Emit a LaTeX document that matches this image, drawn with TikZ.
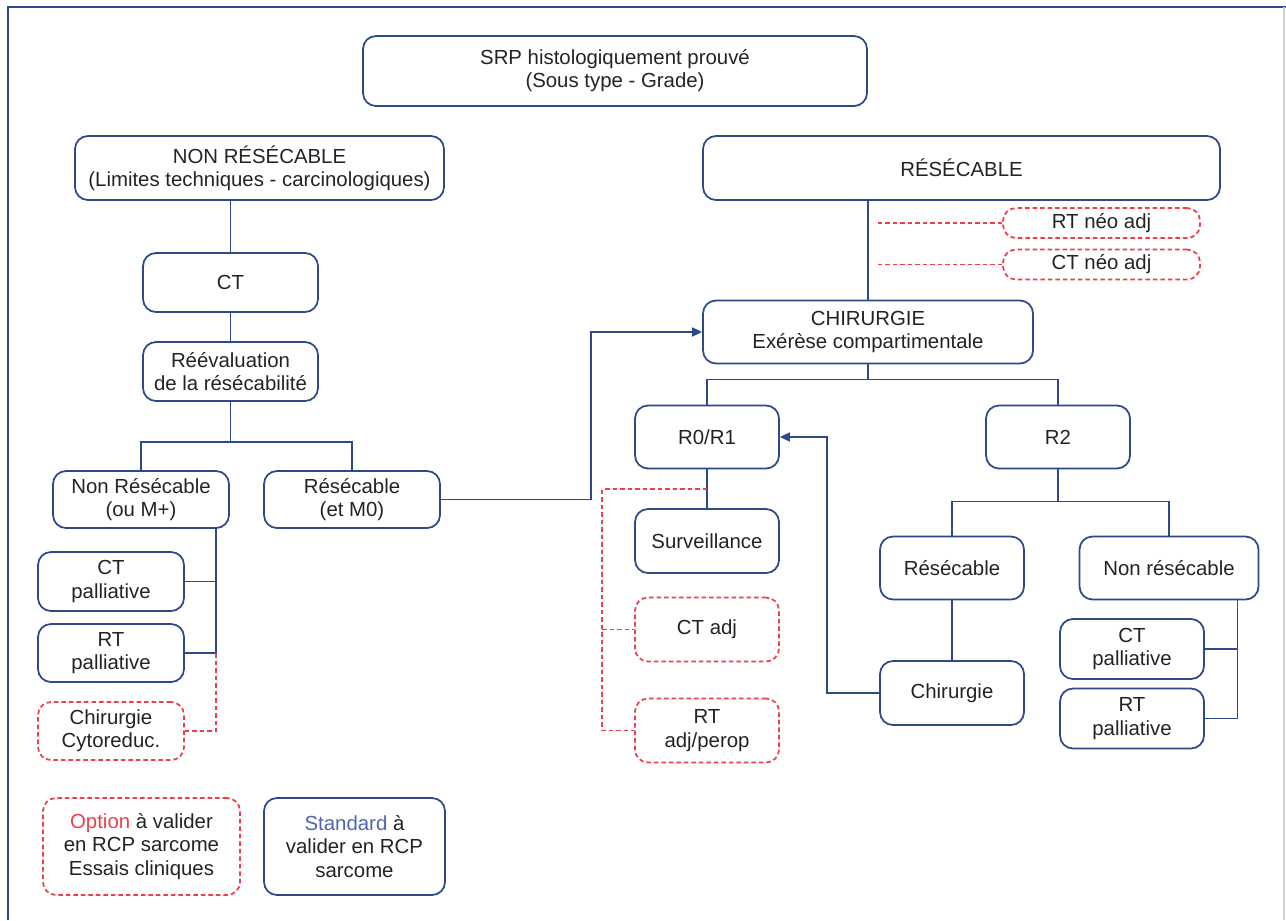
\documentclass[tikz,border=0pt]{standalone}
\usepackage{fontspec}
\setmainfont{Liberation Sans}
\usetikzlibrary{arrows.meta}

\definecolor{bleu}{RGB}{46,72,140}
\definecolor{bleuclair}{RGB}{80,100,180}
\definecolor{rouge}{RGB}{238,62,76}
\definecolor{texte}{RGB}{35,35,35}

\tikzset{
	boite/.style={draw=bleu,line width=1pt,rounded corners=2.6mm,align=center,text=texte,inner sep=0pt,font=\fontsize{11.6}{13.2}\selectfont},
	boiteopt/.style={boite,draw=rouge,dash pattern=on 0.9mm off 0.6mm},
	wh/.style 2 args={minimum width=0.2mm*#1,minimum height=0.2mm*#2},
	lien/.style={draw=bleu,line width=1pt},
	lienopt/.style={draw=rouge,line width=1.1pt,dash pattern=on 0.9mm off 0.6mm},
	fleche/.style={lien,-{Triangle[length=2mm,width=1.8mm]}}
}

\begin{document}
\begin{tikzpicture}[x=0.2mm,y=-0.2mm]
		\useasboundingbox (0,0) rectangle (1286,920);
		\draw[bleu,line width=1.3pt] (8,920) -- (8,7) -- (1286,7);
		\draw[gray!35,line width=0.8pt] (1284,7) -- (1284,920);

		\node[boite,wh={504}{70}] (srp) at (615,71) {SRP histologiquement prouvé\\(Sous type - Grade)};
		\node[boite,wh={369}{64}] (nres) at (259.5,168) {NON RÉSÉCABLE\\(Limites techniques - carcinologiques)};
		\node[boite,wh={517}{64}] (res) at (961.5,168) {RÉSÉCABLE};

		% branche non resecable
		\node[boite,wh={175}{59}] (ct) at (230.5,282.5) {CT};
		\node[boite,wh={175}{59}] (reev) at (230.5,371.5) {Réévaluation\\de la résécabilité};
		\node[boite,wh={176}{57}] (gnres) at (141,499.5) {Non Résécable\\(ou M+)};
		\node[boite,wh={176}{57}] (gres) at (352,499.5) {Résécable\\(et M0)};
		\node[boite,wh={146}{59}] (gct) at (111,581.5) {CT\\palliative};
		\node[boite,wh={146}{58}] (grt) at (111,653) {RT\\palliative};
		\node[boiteopt,wh={146}{58}] (gcyto) at (111,731) {Chirurgie\\Cytoreduc.};

		% branche resecable
		\node[boiteopt,wh={197}{30}] (rtneo) at (1101.5,223) {RT néo adj};
		\node[boiteopt,wh={197}{30}] (ctneo) at (1101.5,264.5) {CT néo adj};
		\node[boite,wh={330}{63}] (chir) at (868,332) {CHIRURGIE\\Exérèse compartimentale};
		\node[boite,wh={144}{63}] (r01) at (707,437) {R0/R1};
		\node[boite,wh={144}{63}] (r2) at (1058,437) {R2};
		\node[boite,wh={144}{64}] (surv) at (707,541) {Surveillance};
		\node[boiteopt,wh={144}{64}] (ctadj) at (707,629.5) {CT adj};
		\node[boiteopt,wh={144}{64}] (rtadj) at (707,730.5) {RT\\adj/perop};
		\node[boite,wh={144}{63}] (r2res) at (952,568) {Résécable};
		\node[boite,wh={179}{63}] (r2nres) at (1169,568) {Non résécable};
		\node[boite,wh={144}{64}] (r2chir) at (952,693) {Chirurgie};
		\node[boite,wh={144}{60}] (r2ct) at (1132,649) {CT\\palliative};
		\node[boite,wh={144}{60}] (r2rt) at (1132,718.5) {RT\\palliative};

		% legende
		\node[boiteopt,wh={197}{97}] (legopt) at (141.5,846.5) {\textcolor{rouge}{Option} à valider\\en RCP sarcome\\Essais cliniques};
		\node[boite,wh={181}{97}] (legstd) at (354.5,846.5) {\textcolor{bleuclair}{Standard} à\\valider en RCP\\sarcome};

		\draw[lien] (ct.north |- nres.south) -- (ct.north);
		\draw[lien] (ct) -- (reev);
		\draw[lien] (reev.south) -- ++(0,40) coordinate (ga);
		\draw[lien] (gnres.north) |- (ga) -| (gres.north);
		\coordinate (gtronc) at ([xshift=15mm]gnres.south);
		\draw[lien] (gtronc) |- (grt.east);
		\draw[lien] (gct.east) -- (gct.east -| gtronc);
		\draw[lienopt] (grt.east -| gtronc) |- (gcyto.east);
		\draw[fleche] (gres.east) -- ++(150,0) |- (chir.west);

		\draw[lien] (res.south -| chir) -- (chir.north);
		\draw[lienopt,shorten >=1.4mm] (rtneo.west) -- (rtneo.west -| chir.north);
		\draw[lienopt,shorten >=1.4mm] (ctneo.west) -- (ctneo.west -| chir.north);
		\draw[lien] (chir.south) -- ++(0,15) coordinate (ca);
		\draw[lien] (r01.north) |- (ca) -| (r2.north);
		\draw[lien] (r01) -- (surv);
		\coordinate (ra) at ([yshift=-4mm]r01.south);
		\coordinate (rb) at ([xshift=-6.4mm]ctadj.west);
		\draw[lienopt] (ra) -| (rb) |- (rtadj.west);
		\draw[lienopt] (rb) -- (ctadj.west);

		\draw[lien] (r2.south) -- ++(0,32) coordinate (rc);
		\draw[lien] (r2res.north) |- (rc) -| (r2nres.north);
		\draw[lien] (r2res) -- (r2chir);
		\draw[fleche] (r2chir.west) -- ++(-52,0) |- (r01.east);
		\coordinate (rtronc) at ([xshift=-4.4mm]r2nres.south east);
		\draw[lien] (rtronc) |- (r2rt.east);
		\draw[lien] (r2ct.east) -- (r2ct.east -| rtronc);
\end{tikzpicture}
\end{document}
